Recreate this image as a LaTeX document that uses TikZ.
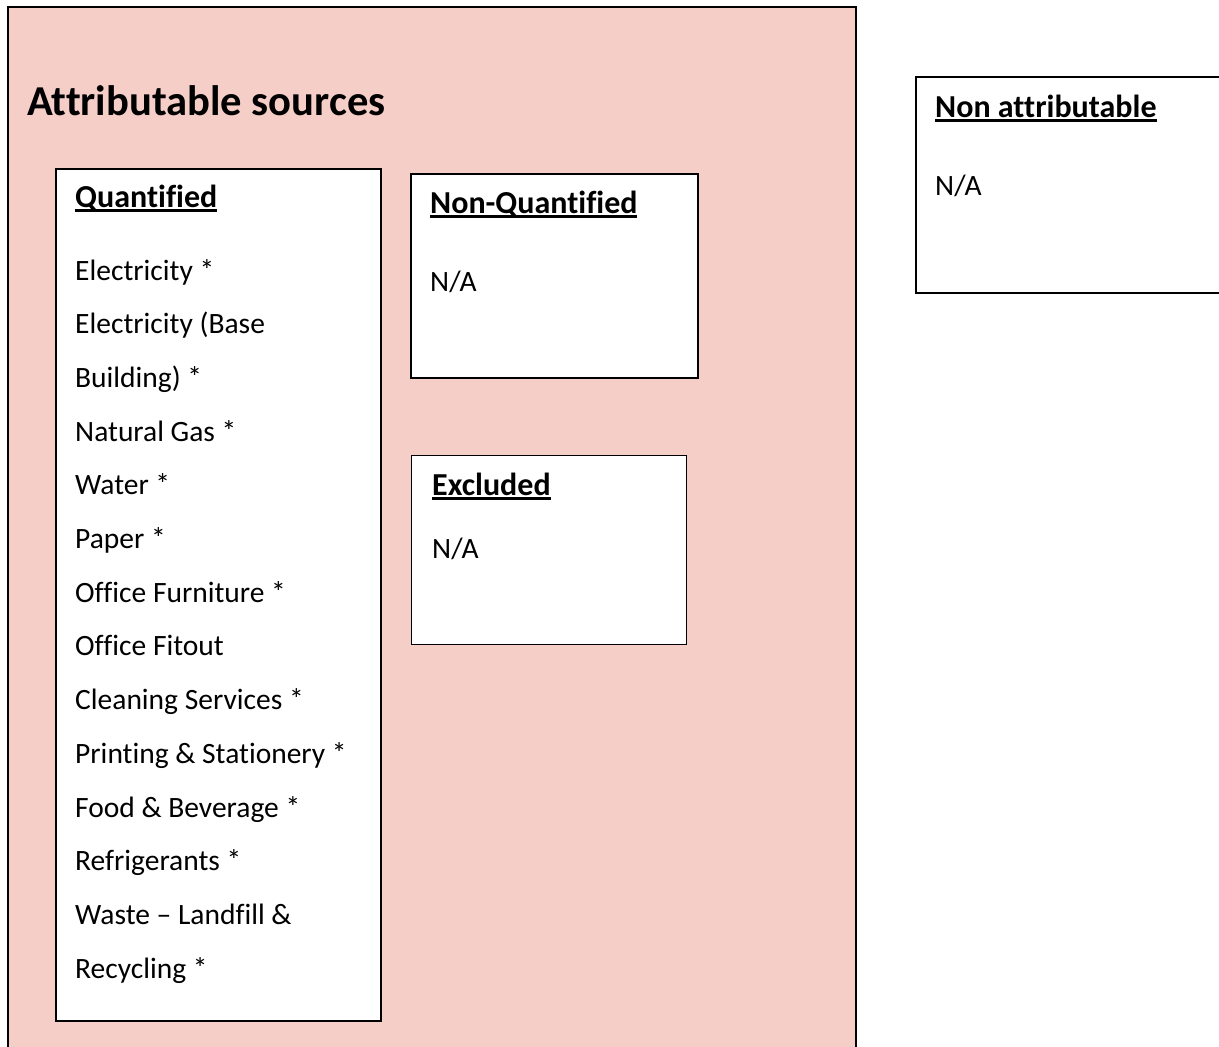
\documentclass[tikz,border=0pt]{standalone}
\usepackage{fontspec}
\setmainfont{Carlito}[Ligatures=CommonOff]
\definecolor{pinkfill}{RGB}{246,206,200}
\newcommand{\uhead}[1]{\setbox0\hbox{#1}\rlap{\rule[-4.5pt]{\wd0}{2.2pt}}\box0}

\begin{document}
\begin{tikzpicture}[x=1pt,y=-1pt,
    panel/.style={draw,line width=1.5pt,fill=white,anchor=north west,inner sep=0pt},
    heading/.style={anchor=base west,inner sep=0pt,font=\fontsize{32}{36}\selectfont\bfseries},
    entry/.style={anchor=base west,inner sep=0pt,font=\fontsize{29.5}{34}\selectfont}]

  \useasboundingbox (0,0) rectangle (1219,1047);

  % outer area
  \node[panel,fill=pinkfill,line width=1.8pt,minimum width=848pt,minimum height=1060pt] (attr) at (7,6) {};
  \node[anchor=base west,inner sep=0pt,font=\fontsize{42.6}{48}\selectfont\bfseries] (attrtitle) at (27,115) {Attributable sources};

  % boxes
  \node[panel,minimum width=325pt,minimum height=852pt] (quant) at (55,168) {};
  \node[panel,minimum width=287pt,minimum height=204pt] (nonquant) at (410,173) {};
  \node[panel,line width=1.2pt,minimum width=275pt,minimum height=189pt] (excl) at (411,455) {};
  \node[panel,minimum width=320pt,minimum height=216pt] (nonattr) at (915,76) {};

  % headings
  \node[heading] (quanthead) at (75,207) {\uhead{Quantified}};
  \node[heading] (nonquanthead) at (430,213) {\uhead{Non-Quantified}};
  \node[heading] (exclhead) at (432,495) {\uhead{Excluded}};
  \node[heading] (nonattrhead) at (935,117) {\uhead{Non attributable}};

  \node[entry] (nonquantna) at (430,291) {N/A};
  \node[entry] (exclna) at (432,558) {N/A};
  \node[entry] (nonattrna) at (935,195) {N/A};

  % quantified list
  \foreach \txt [count=\i from 0] in {Electricity *,Electricity (Base,Building) *,Natural Gas *,Water *,Paper *,Office Furniture *,Office Fitout,Cleaning Services *,Printing \& Stationery *,Food \& Beverage *,Refrigerants *,Waste -- Landfill \&,Recycling *}
    \node[entry] (item\i) at (75,280+\i*53.7) {\txt};

\end{tikzpicture}
\end{document}
